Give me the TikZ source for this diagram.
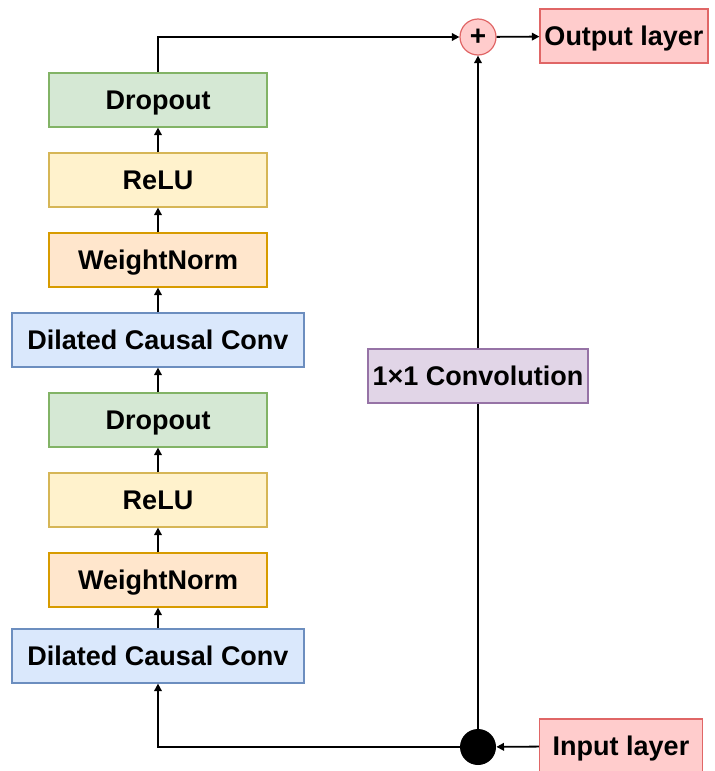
\documentclass[tikz,border=0pt]{standalone}
\usepackage{fontspec}
\setmainfont{Liberation Sans}
\usetikzlibrary{arrows.meta}
\definecolor{grnF}{HTML}{D5E8D4}\definecolor{grnD}{HTML}{82B366}
\definecolor{ylwF}{HTML}{FFF2CC}\definecolor{ylwD}{HTML}{D6B656}
\definecolor{orgF}{HTML}{FFE6CC}\definecolor{orgD}{HTML}{D79B00}
\definecolor{bluF}{HTML}{DAE8FC}\definecolor{bluD}{HTML}{6C8EBF}
\definecolor{purF}{HTML}{E1D5E7}\definecolor{purD}{HTML}{9673A6}
\definecolor{redF}{HTML}{FFCCCC}\definecolor{redD}{HTML}{E06666}

\begin{document}
\begin{tikzpicture}[x=0.5pt,y=-0.5pt,>={Triangle[length=3.8pt,width=3.8pt]},
 blk/.style={draw,line width=0.6pt,minimum height=27pt,inner sep=0pt,
  text height=9.7pt,text depth=0pt,
  font=\fontsize{13.5}{16}\selectfont\bfseries},
 drop/.style={blk,fill=grnF,draw=grnD,minimum width=109pt},
 relu/.style={blk,fill=ylwF,draw=ylwD,minimum width=109pt},
 wnorm/.style={blk,fill=orgF,draw=orgD,minimum width=109pt},
 dconv/.style={blk,fill=bluF,draw=bluD,minimum width=146pt},
 io/.style={blk,fill=redF,draw=redD},
 link/.style={line width=0.9pt}]
 \useasboundingbox (0,0) rectangle (715,771);
 % left stack, bottom to top
 \node[dconv] (dcc1) at (158,656) {Dilated Causal Conv};
 \node[wnorm] (wn1) at (158,580) {WeightNorm};
 \node[relu] (relu1) at (158,500) {ReLU};
 \node[drop] (drop1) at (158,420) {Dropout};
 \node[dconv] (dcc2) at (158,340) {Dilated Causal Conv};
 \node[wnorm] (wn2) at (158,260) {WeightNorm};
 \node[relu] (relu2) at (158,180) {ReLU};
 \node[drop] (drop2) at (158,100) {Dropout};
 % residual branch
 \node[blk,fill=purF,draw=purD,minimum width=110pt] (conv) at (478,376) {1×1 Convolution};
 \node[circle,draw=redD,fill=redF,line width=0.6pt,minimum size=18pt,inner sep=0pt,
  font=\fontsize{14}{14}\selectfont\bfseries] (sum) at (478,37) {+};
 \node[circle,fill=black,minimum size=18pt,inner sep=0pt] (split) at (478,747) {};
 \node[io,minimum width=84pt] (out) at (624,36) {Output layer};
 \node[io,minimum width=81.5pt] (in) at (621,746) {Input layer};
 % connectors
 \draw[link,->] (in) -- (split);
 \draw[link,->] (split) -- (158,747) -- (dcc1);
 \foreach \a/\b in {dcc1/wn1,wn1/relu1,relu1/drop1,drop1/dcc2,dcc2/wn2,wn2/relu2,relu2/drop2}
  \draw[link,->] (\a) -- (\b);
 \draw[link,->] (drop2) -- (158,37) -- (sum);
 \draw[link] (split) -- (conv);
 \draw[link,->] (conv) -- (sum);
 \draw[link,->] (sum) -- (out);
\end{tikzpicture}
\end{document}
